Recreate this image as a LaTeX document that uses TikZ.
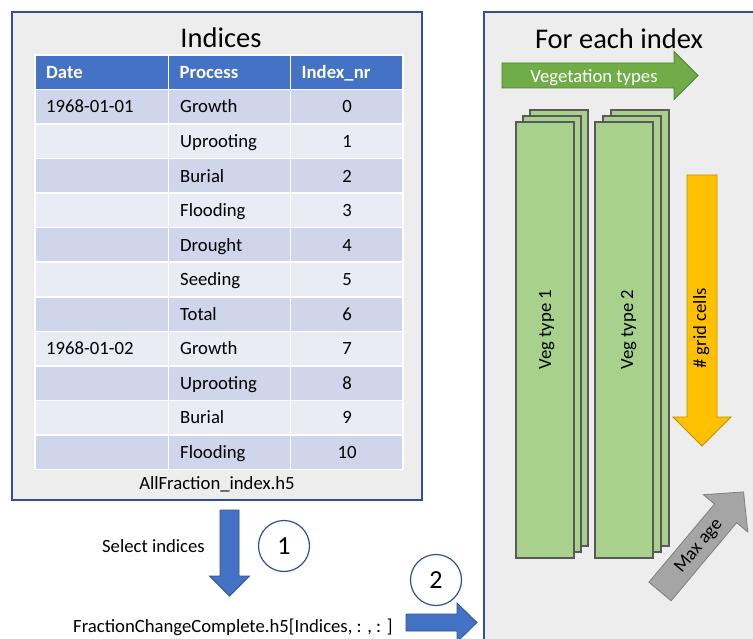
\documentclass[tikz,border=0pt]{standalone}
\usepackage{fontspec}
\setmainfont{Carlito}
\usetikzlibrary{calc}
\definecolor{PanelClr}{rgb}{0.929,0.929,0.929}
\definecolor{FrameClr}{rgb}{0.184,0.322,0.561}
\definecolor{HeadClr}{rgb}{0.267,0.447,0.769}
\definecolor{RowDarkClr}{rgb}{0.812,0.835,0.918}
\definecolor{RowLightClr}{rgb}{0.914,0.922,0.961}
\definecolor{VegClr}{rgb}{0.663,0.820,0.557}
\definecolor{VegArrowClr}{rgb}{0.439,0.678,0.278}
\definecolor{VegEdgeClr}{rgb}{0.314,0.494,0.196}
\definecolor{SheetEdgeClr}{rgb}{0.349,0.349,0.349}
\definecolor{CellsClr}{rgb}{1,0.753,0}
\definecolor{CellsEdgeClr}{rgb}{0.749,0.565,0}
\definecolor{AgeClr}{rgb}{0.647,0.647,0.647}
\definecolor{AgeEdgeClr}{rgb}{0.498,0.498,0.498}
\newcommand\cellfont{\fontsize{18.7}{22}\selectfont}
\newcommand\titlefont{\fontsize{28.5}{34}\selectfont}

\tikzset{
  pics/blockarrow/.style n args={4}{code={
    \path[pic actions] (0,-#3) -- ({#1-#2},-#3) -- ({#1-#2},-#4) -- (#1,0)
      -- ({#1-#2},#4) -- ({#1-#2},#3) -- (0,#3) -- cycle;
  }}
}

\begin{document}
\begin{tikzpicture}[x=1pt,y=-1pt,
  panel/.style={fill=PanelClr,draw=FrameClr,line width=1.2pt},
  cell/.style={draw=white,line width=1.5pt},
  headtxt/.style={anchor=base west,text=white,font=\cellfont\bfseries,inner sep=0pt},
  celltxt/.style={font=\cellfont,inner sep=0pt},
  titletxt/.style={anchor=base,font=\titlefont,inner sep=0pt},
  numcircle/.style={circle,draw=FrameClr,fill=white,line width=1.2pt,minimum size=51pt,font=\fontsize{26}{30}\selectfont},
  flowarrow/.style={fill=HeadClr,draw=FrameClr,line width=0.8pt},
  vegarrow/.style={fill=VegArrowClr,draw=VegEdgeClr,line width=0.8pt},
  cellsarrow/.style={fill=CellsClr,draw=CellsEdgeClr,line width=0.8pt},
  agearrow/.style={fill=AgeClr,draw=AgeEdgeClr,line width=0.8pt},
  vegsheet/.style={fill=VegClr,draw=SheetEdgeClr,line width=1.3pt}]

\useasboundingbox (0,0) rectangle (753,639);
\clip (0,0) rectangle (753,639);

% Draw the two panels.
\draw[panel] (12,12) rectangle (422,500);
\draw[panel] (484,12) rectangle (790,690);

\node[titletxt] (indices) at (221,48) {Indices};
\node[titletxt] (foreach) at (619,49) {For each index};

% Header of the table.
\foreach \x/\w/\h [count=\c] in {35/133.5/Date,168.5/122/Process,290.5/112.5/Index\_nr}{
  \draw[cell,fill=HeadClr] (\x,55) rectangle ++(\w,34.5);
  \node[headtxt] (head\c) at (\x+11,79) {\h};
}

% Rows of the table.
\foreach \d/\p/\n [count=\i] in {1968-01-01/Growth/0,{}/Uprooting/1,{}/Burial/2,
    {}/Flooding/3,{}/Drought/4,{}/Seeding/5,{}/Total/6,1968-01-02/Growth/7,
    {}/Uprooting/8,{}/Burial/9,{}/Flooding/10}{
  \pgfmathsetmacro\rowtop{89.5+(\i-1)*34.55}
  \ifodd\i \def\rowclr{RowDarkClr}\else\def\rowclr{RowLightClr}\fi
  \draw[cell,fill=\rowclr] (35,\rowtop) rectangle (168.5,\rowtop+34.55);
  \draw[cell,fill=\rowclr] (168.5,\rowtop) rectangle (290.5,\rowtop+34.55);
  \draw[cell,fill=\rowclr] (290.5,\rowtop) rectangle (403,\rowtop+34.55);
  \node[celltxt,anchor=base west] (date\i) at (46,\rowtop+23.5) {\d};
  \node[celltxt,anchor=base west] (proc\i) at (180,\rowtop+23.5) {\p};
  \node[celltxt,anchor=base] (nr\i) at (347,\rowtop+23.5) {\n};
}

\node[celltxt,anchor=base] (allfrac) at (217,489) {AllFraction\_index.h5};

% Step 1: select the indices.
\pic[flowarrow,rotate=-90] at (229.5,510) {blockarrow={86}{20}{9.5}{20}};
\node[celltxt,anchor=base east] (select) at (205,552) {Select indices};
\node[numcircle] (one) at (284,546) {1};

% Step 2: hand the fractions over.
\node[celltxt,anchor=base west] (fracchange) at (73,632) {FractionChangeComplete.h5[Indices, : , : ]};
\pic[flowarrow] at (406,622.5) {blockarrow={71}{20}{8.5}{19.5}};
\node[numcircle] (two) at (436,580) {2};

% Vegetation types arrow.
\pic[vegarrow] at (502,75.5) {blockarrow={196}{24}{12.5}{24}};
\node[celltxt,anchor=base,text=white] (vegtypes) at (594,83) {Vegetation types};

% Stacks of sheets, back to front.
\foreach \sx/\ox [count=\s] in {516/7,595/8}{
  \foreach \k in {2,1,0}
    \draw[vegsheet] (\sx+\k*\ox,122-\k*6) rectangle ++(58,436);
}
\node[celltxt,anchor=base,rotate=90] (veg1) at (551,329.5) {Veg type 1};
\node[celltxt,anchor=base,rotate=90] (veg2) at (633,329.5) {Veg type 2};

% Grid cells arrow.
\pic[cellsarrow,rotate=-90] at (702,175) {blockarrow={271}{29}{15}{29}};
\node[celltxt,anchor=base,rotate=90] (gridcells) at (706,328.5) {\# grid cells};

% Max age arrow.
\pic[agearrow,rotate=50] at (660,591.5) {blockarrow={130}{28}{14.5}{29}};
\node[celltxt,rotate=50] (maxage) at (699,546) {Max age};

\end{tikzpicture}
\end{document}
